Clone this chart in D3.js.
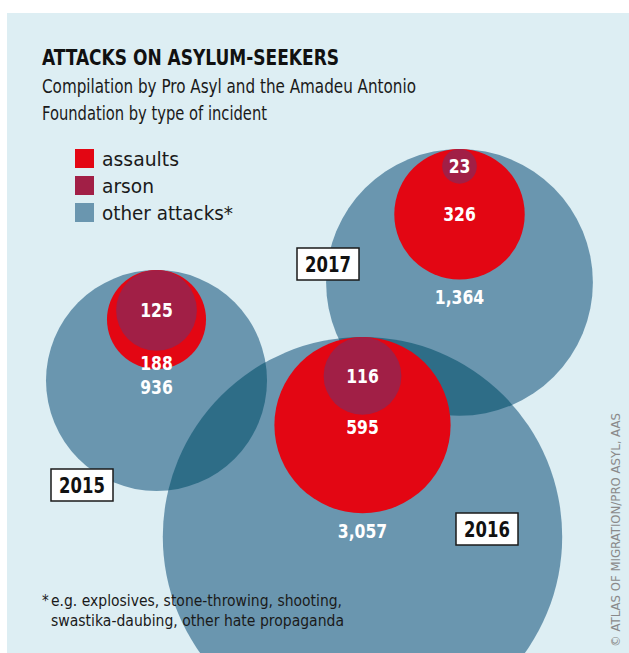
<!DOCTYPE html>
<html>
<head>
<meta charset="utf-8">
<title>Attacks on asylum-seekers</title>
<script src="https://d3js.org/d3.v7.min.js"></script>
<style>
  body { margin: 0; background: #fff; }
  svg text { font-family: 'DejaVu Sans Condensed', Roboto, sans-serif; }
</style>
</head>
<body>
<div id="chart"></div>
<script>
// data
var years = ['2015', '2016', '2017'];
var otherAttacks = [936, 3057, 1364];   // outer circle (all incidents)
var assaults = [188, 595, 326];
var arson = [125, 116, 23];
var legendLabels = ['assaults', 'arson', 'other attacks*'];

// layout of each year's bubble group (centre x, top y) and its year tag
var groupX = [156.5, 362.5, 459.5];
var groupTop = [270, 337, 149];
var tagX = [51, 456, 297];
var tagY = [469, 513, 248];

var width = 629, height = 653;
var colors = { assaults: '#e30613', arson: '#a11f46', other: '#6a96af', overlap: '#2e6d87' };
var fmt = d3.format(',');

// squeeze text to a given width (DIN-like narrow look)
function fitTo(sel, w) {
  sel.attr('textLength', w).attr('lengthAdjust', 'spacingAndGlyphs');
}
function squeeze(sel, k) {
  sel.each(function () {
    d3.select(this).attr('textLength', this.getComputedTextLength() * k)
      .attr('lengthAdjust', 'spacingAndGlyphs');
  });
}

var svg = d3.select('#chart').append('svg')
  .attr('width', width)
  .attr('height', height);

// panel
svg.append('rect')
  .attr('x', 7).attr('y', 13)
  .attr('width', width - 7).attr('height', height - 13)
  .attr('fill', '#ddeef3');

// size scale: circle area proportional to value
var r = d3.scaleSqrt()
  .domain([0, d3.max(otherAttacks)])
  .range([0, 199.7]);

var groups = years.map(function (y, i) {
  var ro = r(otherAttacks[i]), ra = r(assaults[i]), rs = r(arson[i]);
  return {
    year: y, i: i, cx: groupX[i],
    outer: { r: ro, cy: groupTop[i] + ro },
    red: { r: ra, cy: groupTop[i] + ra },
    arson: { r: rs, cy: groupTop[i] + rs }
  };
});

var defs = svg.append('defs');
groups.forEach(function (g) {
  defs.append('clipPath').attr('id', 'clip' + g.i)
    .append('circle').attr('cx', g.cx).attr('cy', g.outer.cy).attr('r', g.outer.r);
});

// outer circles
svg.append('g').selectAll('circle')
  .data(groups).enter().append('circle')
  .attr('cx', function (d) { return d.cx; })
  .attr('cy', function (d) { return d.outer.cy; })
  .attr('r', function (d) { return d.outer.r; })
  .attr('fill', colors.other);

// darker overlap where two outer circles intersect
var ov = svg.append('g');
groups.forEach(function (a, i) {
  groups.slice(i + 1).forEach(function (b) {
    ov.append('circle')
      .attr('cx', b.cx).attr('cy', b.outer.cy).attr('r', b.outer.r)
      .attr('clip-path', 'url(#clip' + a.i + ')')
      .attr('fill', colors.overlap);
  });
});

// assaults
svg.append('g').selectAll('circle')
  .data(groups).enter().append('circle')
  .attr('cx', function (d) { return d.cx; })
  .attr('cy', function (d) { return d.red.cy; })
  .attr('r', function (d) { return d.red.r; })
  .attr('fill', colors.assaults);

// arson
svg.append('g').selectAll('circle')
  .data(groups).enter().append('circle')
  .attr('cx', function (d) { return d.cx; })
  .attr('cy', function (d) { return d.arson.cy; })
  .attr('r', function (d) { return d.arson.r; })
  .attr('fill', colors.arson);

// value labels
var labels = svg.append('g')
  .attr('fill', '#fff')
  .attr('font-weight', 'bold')
  .attr('font-size', '19.5px')
  .attr('text-anchor', 'middle');

groups.forEach(function (g, i) {
  var arsonBottom = g.arson.cy + g.arson.r;
  var redBottom = g.red.cy + g.red.r;
  labels.append('text')
    .attr('x', g.cx).attr('y', g.arson.cy).attr('dy', '0.36em')
    .text(fmt(arson[i]));
  labels.append('text')
    .attr('x', g.cx).attr('y', Math.max(g.red.cy, arsonBottom + 12)).attr('dy', '0.36em')
    .text(fmt(assaults[i]));
  labels.append('text')
    .attr('x', g.cx).attr('y', redBottom + 18).attr('dy', '0.36em')
    .text(fmt(otherAttacks[i]));
});
squeeze(labels.selectAll('text'), 0.89);

// year tags
var tags = svg.append('g').selectAll('g')
  .data(groups).enter().append('g')
  .attr('transform', function (d) { return 'translate(' + tagX[d.i] + ',' + tagY[d.i] + ')'; });
tags.append('rect')
  .attr('width', 62).attr('height', 32)
  .attr('fill', '#fff')
  .attr('stroke', '#1a1a1a')
  .attr('stroke-width', 1.5);
tags.append('text')
  .attr('x', 31).attr('y', 16).attr('dy', '0.36em')
  .attr('text-anchor', 'middle')
  .attr('font-weight', 'bold')
  .attr('font-size', '21px')
  .attr('fill', '#111')
  .text(function (d) { return d.year; })
  .call(squeeze, 0.87);

// title block
svg.append('text')
  .attr('x', 42).attr('y', 65)
  .attr('font-size', '21.5px').attr('font-weight', 'bold').attr('fill', '#111')
  .text('ATTACKS ON ASYLUM-SEEKERS')
  .call(fitTo, 297);
svg.append('text')
  .attr('x', 42).attr('y', 93)
  .attr('font-size', '19px').attr('fill', '#1a1a1a')
  .text('Compilation by Pro Asyl and the Amadeu Antonio')
  .call(fitTo, 374);
svg.append('text')
  .attr('x', 42).attr('y', 120)
  .attr('font-size', '19px').attr('fill', '#1a1a1a')
  .text('Foundation by type of incident')
  .call(fitTo, 225);

// legend
var legendColors = [colors.assaults, colors.arson, colors.other];
var legendWidths = [77, 52, 131];
var legend = svg.append('g').selectAll('g')
  .data(legendLabels).enter().append('g')
  .attr('transform', function (d, i) { return 'translate(75,' + (149 + i * 27) + ')'; });
legend.append('rect')
  .attr('width', 19).attr('height', 19)
  .attr('fill', function (d, i) { return legendColors[i]; });
legend.append('text')
  .attr('x', 27).attr('y', 17)
  .attr('font-size', '20px').attr('fill', '#1a1a1a')
  .attr('textLength', function (d, i) { return legendWidths[i]; })
  .attr('lengthAdjust', 'spacingAndGlyphs')
  .text(function (d) { return d; });

// footnote
var note = svg.append('g').attr('font-size', '15px').attr('fill', '#1a1a1a');
note.append('text').attr('x', 42).attr('y', 606).text('*');
note.append('text').attr('x', 51).attr('y', 606).text('e.g. explosives, stone-throwing, shooting,').call(fitTo, 291);
note.append('text').attr('x', 51).attr('y', 626).text('swastika-daubing, other hate propaganda').call(fitTo, 293);

// source
svg.append('text')
  .attr('transform', 'translate(620,647) rotate(-90)')
  .attr('font-size', '13px').attr('fill', '#8a8a8a')
  .text('\u00A9 ATLAS OF MIGRATION/PRO ASYL, AAS')
  .call(fitTo, 234);
</script>
</body>
</html>
